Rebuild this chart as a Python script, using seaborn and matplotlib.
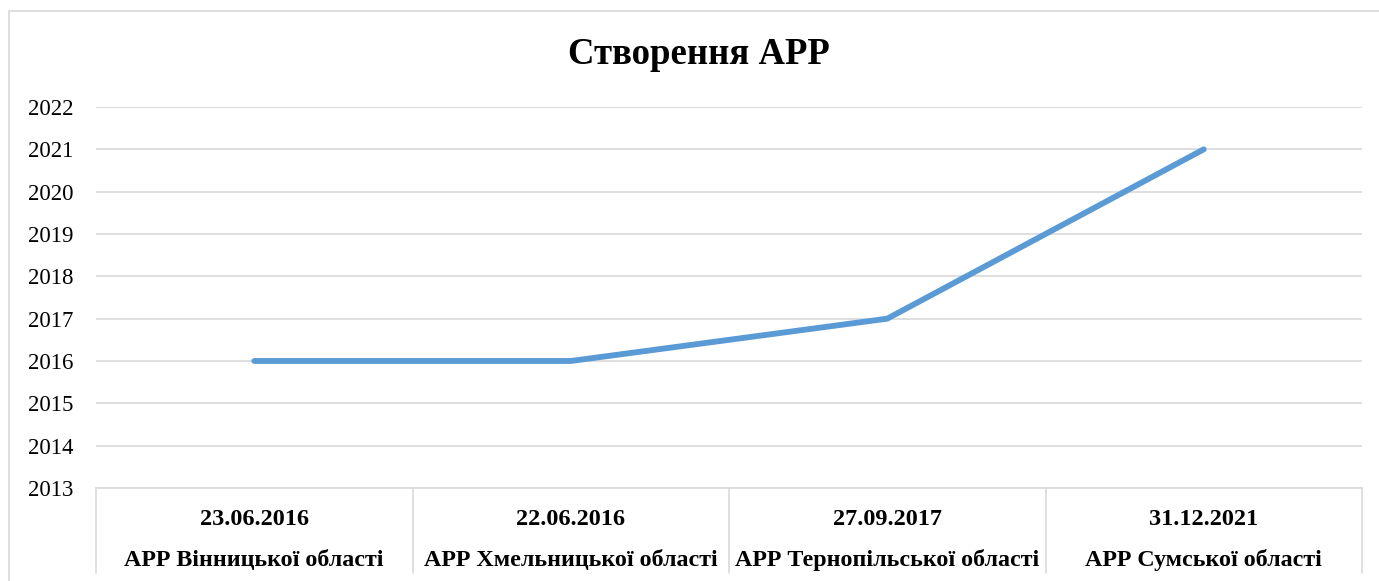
import matplotlib
matplotlib.use("Agg")
import matplotlib.pyplot as plt
import seaborn as sns
import pandas as pd
from matplotlib.patches import Rectangle

# дані
dates = ["23.06.2016", "22.06.2016", "27.09.2017", "31.12.2021"]
names = ["АРР Вінницької області", "АРР Хмельницької області",
         "АРР Тернопільської області", "АРР Сумської області"]
years = [2016, 2016, 2017, 2021]
y_ticks = list(range(2013, 2023))

sns.set_theme(style="white")
plt.rcParams['font.family'] = ['Liberation Serif', 'DejaVu Serif']

df = pd.DataFrame({"pos": range(len(years)), "year": years})

fig = plt.figure(figsize=(13.79, 5.81), dpi=100)
ax = fig.add_axes([96 / 1379, 93 / 581, 1266 / 1379, 381 / 581])

sns.lineplot(data=df, x="pos", y="year", ax=ax, color="#5B9BD5",
             linewidth=4.2, solid_capstyle="round")

ax.set_xlim(-0.5, len(years) - 0.5)
ax.set_ylim(2013, 2022)
ax.set_yticks(y_ticks)
ax.set_yticklabels([str(v) for v in y_ticks], fontsize=16.5, color="black")
ax.grid(axis="y", color="#D9D9D9", linewidth=1.2)
ax.set_axisbelow(True)

for s in ["top", "right", "left"]:
    ax.spines[s].set_visible(False)
ax.spines["bottom"].set_color("#D9D9D9")
ax.spines["bottom"].set_linewidth(1.2)

ax.set_xticks(range(len(dates)))
ax.set_xticklabels(dates, fontsize=17.5, fontweight="bold", color="black")
ax.tick_params(axis="x", length=0, pad=15)
ax.tick_params(axis="y", length=0, pad=16)

# другий рядок підписів
trans = ax.get_xaxis_transform()
for i, nm in enumerate(names):
    ax.text(i, -0.19, nm, transform=trans, ha="center", va="center",
            fontsize=17.3, fontweight="bold", color="black")

# роздільники категорій
for b in [-0.5, 0.5, 1.5, 2.5, 3.5]:
    ax.plot([b, b], [0, -0.223], transform=trans, color="#D9D9D9",
            linewidth=1.2, clip_on=False)

ax.set_xlabel("")
ax.set_ylabel("")

fig.text(699 / 1379, 1 - 54 / 581, "Створення АРР", ha="center", va="center",
         fontsize=26.5, fontweight="bold", color="black")

# рамка діаграми
fig.patches.append(Rectangle((9 / 1379, -0.05), 1.2, 1 - 11 / 581 + 0.05,
                             transform=fig.transFigure, fill=False,
                             edgecolor="#D9D9D9", linewidth=1.2))

fig.savefig("out.png", dpi=100)
